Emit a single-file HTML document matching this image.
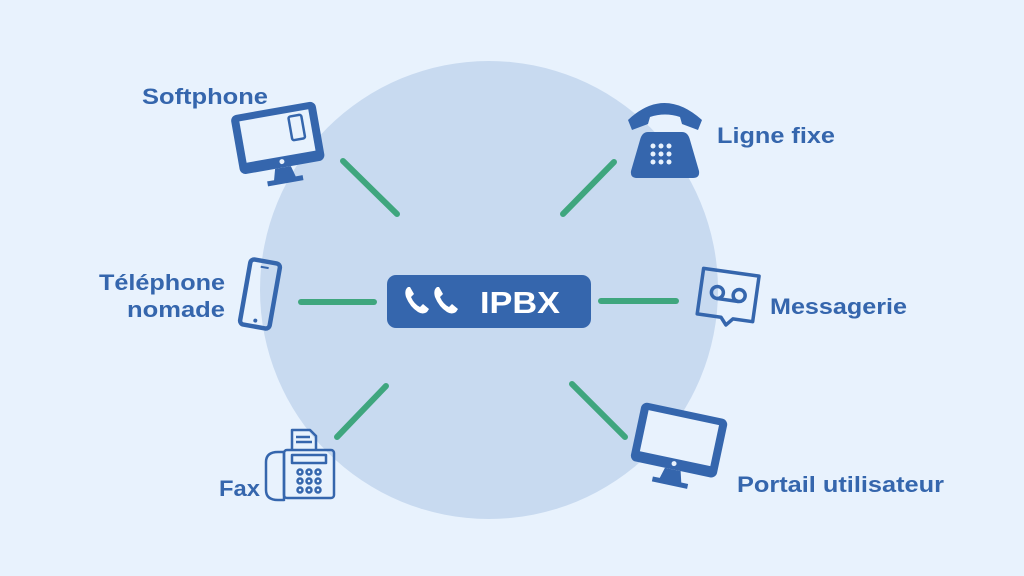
<!DOCTYPE html>
<html><head><meta charset="utf-8"><style>
html,body{margin:0;padding:0;width:1024px;height:576px;overflow:hidden;background:#e8f2fd;}
svg text{font-family:"Liberation Sans",sans-serif;font-weight:bold;fill:#3566ad;}
</style></head><body>
<svg width="1024" height="576" viewBox="0 0 1024 576" xmlns="http://www.w3.org/2000/svg">
<rect width="1024" height="576" fill="#e8f2fd"/>
<circle cx="489" cy="290" r="229" fill="#c8daf0"/>
<g stroke="#3fa67e" stroke-width="6" stroke-linecap="round">
<line x1="343" y1="161" x2="397" y2="214"/>
<line x1="614" y1="162" x2="563" y2="214"/>
<line x1="301" y1="302" x2="374" y2="302"/>
<line x1="601" y1="301" x2="676" y2="301"/>
<line x1="337" y1="437" x2="386" y2="386"/>
<line x1="572" y1="384" x2="625" y2="437"/>
</g>
<rect x="387" y="275" width="204" height="53" rx="9" fill="#3566ad"/>
<g fill="#fff">
<path d="M408 287 q-4 3 -2 10 q4 10 12 15 q5 3 9 0 l2 -3 l-6 -5 l-3 3 q-6 -3 -9 -10 l3 -3 l-4 -7z"/>
<path d="M437 287 q-4 3 -2 10 q4 10 12 15 q5 3 9 0 l2 -3 l-6 -5 l-3 3 q-6 -3 -9 -10 l3 -3 l-4 -7z"/>
</g>
<text x="480" y="313" font-size="31" textLength="80" lengthAdjust="spacingAndGlyphs" style="fill:#fff">IPBX</text>

<text x="142" y="104" font-size="22" textLength="126" lengthAdjust="spacingAndGlyphs">Softphone</text>
<text x="717" y="143" font-size="22" textLength="118" lengthAdjust="spacingAndGlyphs">Ligne fixe</text>
<text x="99" y="290" font-size="22" textLength="126" lengthAdjust="spacingAndGlyphs">Téléphone</text>
<text x="127" y="317" font-size="22" textLength="98" lengthAdjust="spacingAndGlyphs">nomade</text>
<text x="770" y="314" font-size="22" textLength="137" lengthAdjust="spacingAndGlyphs">Messagerie</text>
<text x="219" y="496" font-size="22" textLength="41" lengthAdjust="spacingAndGlyphs">Fax</text>
<text x="737" y="492" font-size="22" textLength="207" lengthAdjust="spacingAndGlyphs">Portail utilisateur</text>

<!-- Softphone monitor -->
<g transform="rotate(-10 278 145)">
<rect x="236" y="108" width="86" height="60" rx="6" fill="#3566ad"/>
<rect x="244" y="115" width="70" height="42" fill="#e8f2fd"/>
<rect x="293" y="119" width="13" height="24" rx="2" fill="none" stroke="#3566ad" stroke-width="2.5"/>
<circle cx="279" cy="162" r="2.5" fill="#e8f2fd"/>
<path d="M271 168 h16 l3 11 h7 v5 h-36 v-5 h7z" fill="#3566ad"/>
</g>
<!-- Mobile -->
<g transform="rotate(10 260 294)">
<rect x="245" y="261" width="30" height="66" rx="4" fill="none" stroke="#3566ad" stroke-width="4.5"/>
<line x1="256" y1="267" x2="264" y2="267" stroke="#3566ad" stroke-width="2"/>
<circle cx="260" cy="321" r="2" fill="#3566ad"/>
</g>
<!-- Desk phone -->
<g fill="#3566ad">
<path d="M628 120 q36 -34 74 0 l-4 10 l-16 -6 l-2 -7 q-15 -5 -30 0 l-2 7 l-16 6z"/>
<path d="M648 132 h34 q6 0 8 8 l9 31 q1 7 -6 7 h-56 q-7 0 -6 -7 l9 -31 q2 -8 8 -8z"/>
</g>
<g fill="#e8f2fd">
<circle cx="653" cy="146" r="2.5"/><circle cx="661" cy="146" r="2.5"/><circle cx="669" cy="146" r="2.5"/>
<circle cx="653" cy="154" r="2.5"/><circle cx="661" cy="154" r="2.5"/><circle cx="669" cy="154" r="2.5"/>
<circle cx="653" cy="162" r="2.5"/><circle cx="661" cy="162" r="2.5"/><circle cx="669" cy="162" r="2.5"/>
</g>
<!-- Messagerie -->
<g transform="rotate(8 728 296)" fill="none" stroke="#3566ad" stroke-width="3.5" stroke-linejoin="round">
<path d="M700 272 h56 v46 h-20 l-6 7 l-6 -7 h-24z"/>
<circle cx="717" cy="294" r="6"/><circle cx="739" cy="294" r="6"/>
<line x1="717" y1="300" x2="739" y2="300"/>
</g>
<!-- Fax -->
<g fill="none" stroke="#3566ad" stroke-width="2.5" stroke-linejoin="round">
<path d="M278 452 q-12 0 -12 10 v28 q0 10 12 10 h6 v-48z"/>
<rect x="284" y="450" width="50" height="48" rx="3"/>
<path d="M292 450 v-20 h18 l6 6 v14"/>
<line x1="296" y1="437" x2="310" y2="437"/><line x1="296" y1="442" x2="312" y2="442"/>
<rect x="292" y="455" width="34" height="8"/>
<circle cx="300" cy="472" r="2.5"/><circle cx="309" cy="472" r="2.5"/><circle cx="318" cy="472" r="2.5"/>
<circle cx="300" cy="481" r="2.5"/><circle cx="309" cy="481" r="2.5"/><circle cx="318" cy="481" r="2.5"/>
<circle cx="300" cy="490" r="2.5"/><circle cx="309" cy="490" r="2.5"/><circle cx="318" cy="490" r="2.5"/>
</g>
<!-- Portail monitor -->
<g transform="rotate(12 678 445)">
<rect x="634" y="410" width="88" height="60" rx="6" fill="#3566ad"/>
<rect x="642" y="417" width="72" height="42" fill="#e8f2fd"/>
<circle cx="678" cy="464" r="2.5" fill="#e8f2fd"/>
<path d="M670 470 h16 l3 11 h7 v5 h-36 v-5 h7z" fill="#3566ad"/>
</g>
</svg>
</body></html>
